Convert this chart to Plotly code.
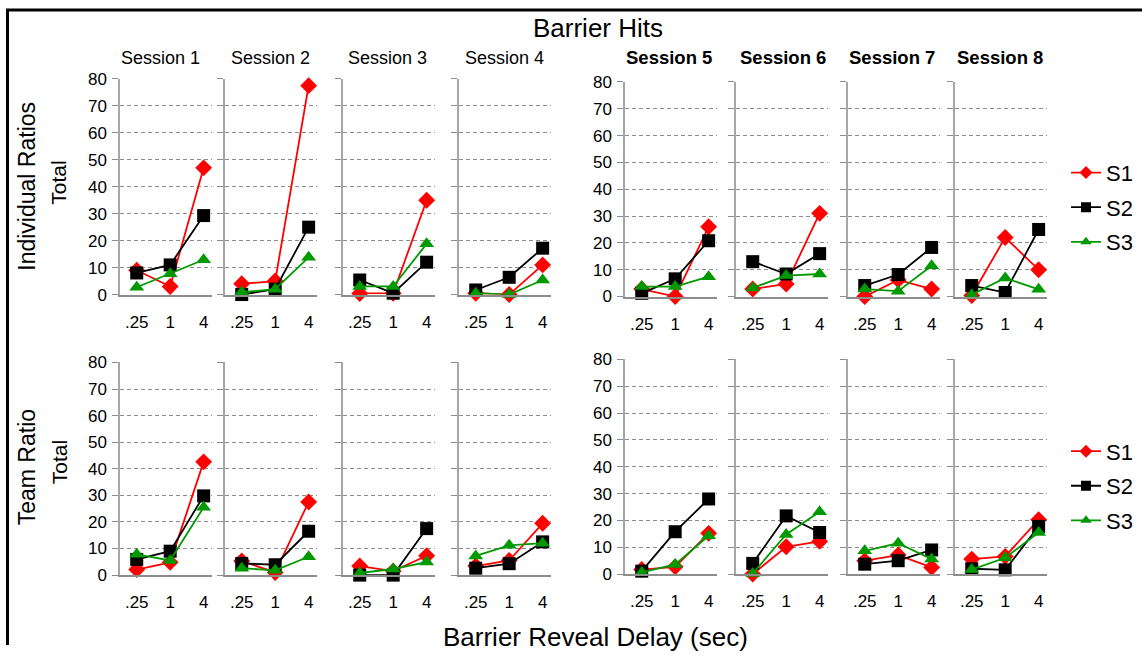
import plotly.graph_objects as go

W, H = 1142, 655

delays = [".25", "1", "4"]
sessions = ["Session 1", "Session 2", "Session 3", "Session 4",
            "Session 5", "Session 6", "Session 7", "Session 8"]
series_names = ["S1", "S2", "S3"]

# Individual Ratios (top row), one [.25, 1, 4] triple per session
ind_s1 = [[9, 3, 47], [4, 5, 77.5], [0.4, 0.5, 35], [0.5, 0, 11],
          [2.8, 0, 26], [2.8, 4.7, 31], [0, 6.2, 2.8], [0.4, 22, 10]]
ind_s2 = [[8, 11, 29.3], [0, 2, 25], [5.4, 0.5, 12], [1.7, 6.4, 17.2],
          [1.2, 6.6, 20.8], [13, 8.4, 16], [4.1, 8.2, 18.3], [4.1, 1.5, 25]]
ind_s3 = [[2.7, 7.7, 12.9], [0.9, 2, 13.8], [3, 3, 18.8], [0.5, 0, 5.4],
          [3.7, 3.7, 7.4], [3.2, 7.8, 8.4], [2.8, 2, 11.5], [0.7, 6.9, 2.7]]

# Team Ratio (bottom row)
team_s1 = [[2.1, 4.8, 42.6], [5.3, 1, 27.5], [3.4, 1.5, 7.3], [3.4, 5.5, 19.5],
           [1.7, 2.7, 15.2], [0, 10.2, 12.2], [5, 7.1, 2.5], [5.6, 6.6, 20.3]]
team_s2 = [[5.9, 9, 29.8], [4.4, 3.9, 16.5], [0, 0, 17.5], [2.6, 4.3, 12.5],
           [1.1, 15.8, 28], [4, 21.7, 15.5], [3.7, 5, 9], [2, 1.6, 17.8]]
team_s3 = [[7.8, 5.5, 25.5], [2.6, 1.8, 6.9], [0.8, 2.3, 4.9], [7.2, 11.2, 12],
           [0.6, 3.6, 14.3], [0.2, 14.8, 23.2], [8.7, 11.5, 5.6], [1.7, 6.1, 15.5]]

colors = ["#ff0000", "#000000", "#009a00"]
symbols = ["diamond", "square", "triangle-up"]

FONT = "Liberation Sans, Arial, sans-serif"

# vertical placement helper (target picture row -> paper fraction)
TOP, SPAN = 8, 637


def py(y):
    return 1 - (y - TOP) / SPAN


def px(x):
    return x / W


panel_x0 = [120, 225, 343, 459, 625, 736, 848, 955]
panel_w = 92
row_y = [[(294, 78), (296, 81)], [(575, 362), (574, 359)]]  # (row of 0, row of 80), left/right halves

fig = go.Figure()
layout = {}
rows = [[ind_s1, ind_s2, ind_s3], [team_s1, team_s2, team_s3]]

for r in range(2):
    for i in range(8):
        k = r * 8 + i + 1
        half = 0 if i < 4 else 1
        y0px, y80px = row_y[r][half]
        x0 = panel_x0[i]
        xa = "xaxis" if k == 1 else f"xaxis{k}"
        ya = "yaxis" if k == 1 else f"yaxis{k}"
        layout[xa] = dict(
            domain=[px(x0), px(x0 + panel_w)], anchor=f"y{k}" if k > 1 else "y",
            type="category", categoryorder="array", categoryarray=delays,
            range=[-0.5, 2.25], showline=True, linecolor="#8c8c8c", linewidth=1.5,
            showgrid=False, zeroline=False, ticks="", ticklabelstandoff=11,
            tickfont=dict(size=17, color="#000", family=FONT), fixedrange=True,
        )
        layout[ya] = dict(
            domain=[py(y0px), py(y80px)], anchor=f"x{k}" if k > 1 else "x",
            range=[0, 80], dtick=10, tick0=0, showline=True, linecolor="#a6a6a6", linewidth=1.5,
            showgrid=True, gridcolor="#8c8c8c", gridwidth=1, griddash="4px,3px",
            zeroline=False, ticks="outside", ticklen=6, tickcolor="#8c8c8c", tickwidth=1,
            showticklabels=(i in (0, 4)), ticklabelstandoff=2,
            tickfont=dict(size=17, color="#000", family=FONT), fixedrange=True,
        )
        for s in range(3):
            fig.add_trace(go.Scatter(
                x=delays, y=rows[r][s][i], mode="lines+markers",
                name=series_names[s],
                line=dict(color=colors[s], width=1.8),
                marker=dict(symbol=symbols[s], size=13, color=colors[s]),
                xaxis=f"x{k}" if k > 1 else "x", yaxis=f"y{k}" if k > 1 else "y",
                cliponaxis=False, showlegend=False, hoverinfo="skip",
            ))

# legend-only entries (smaller symbols, like the reference legend)
for r in range(2):
    for s in range(3):
        fig.add_trace(go.Scatter(
            x=[None], y=[None], mode="lines+markers", name=series_names[s],
            line=dict(color=colors[s], width=1.8),
            marker=dict(symbol=symbols[s], size=10, color=colors[s]),
            legend="legend" if r == 0 else "legend2",
            legendgroup=f"r{r}{series_names[s]}", showlegend=True,
        ))

ann = []
ann.append(dict(text="Barrier Hits", x=px(598), y=py(27), font=dict(size=26)))
sess_cx = [160, 270, 387, 504, 669, 783, 892, 1000]
for i, lab in enumerate(sessions):
    if i < 4:
        ann.append(dict(text=lab, x=px(sess_cx[i]), y=py(57), font=dict(size=18)))
    else:
        ann.append(dict(text=f"<b>{lab}</b>", x=px(sess_cx[i]), y=py(57), font=dict(size=18.5)))
ann.append(dict(text="Individual Ratios", x=px(27), y=py(186), textangle=-90, font=dict(size=23)))
ann.append(dict(text="Total", x=px(59), y=py(182), textangle=-90, font=dict(size=21)))
ann.append(dict(text="Team Ratio", x=px(27), y=py(467), textangle=-90, font=dict(size=23)))
ann.append(dict(text="Total", x=px(59), y=py(462), textangle=-90, font=dict(size=21)))
ann.append(dict(text="Barrier Reveal Delay (sec)", x=px(595), y=py(637), font=dict(size=26)))
for a in ann:
    a.update(xref="paper", yref="paper", showarrow=False, xanchor="center", yanchor="middle")
    a["font"].update(family=FONT, color="#000")

shapes = [
    dict(type="line", xref="paper", yref="paper", x0=px(7.5), x1=px(7.5), y0=py(8), y1=0,
         line=dict(color="#000", width=3)),
    dict(type="line", xref="paper", yref="paper", x0=px(6), x1=1, y0=py(9), y1=py(9),
         line=dict(color="#000", width=3)),
]

leg_common = dict(xanchor="left", yanchor="top", traceorder="grouped", tracegroupgap=3,
                  font=dict(size=22, family=FONT, color="#000"), bgcolor="rgba(0,0,0,0)",
                  itemwidth=30)

fig.update_layout(
    width=W, height=H, margin=dict(l=0, r=0, t=0, b=0),
    paper_bgcolor="white", plot_bgcolor="white",
    font=dict(family=FONT, color="#000"),
    annotations=ann, shapes=shapes,
    legend=dict(x=px(1066), y=py(151), **leg_common),
    legend2=dict(x=px(1066), y=py(430), **leg_common),
    **layout,
)

fig.write_html(
    "out.html",
    config={"displayModeBar": False},
    post_script="document.body.style.margin='0';document.body.style.padding='0';"
                "document.body.style.overflow='hidden';"
                "document.documentElement.style.overflow='hidden';",
)
